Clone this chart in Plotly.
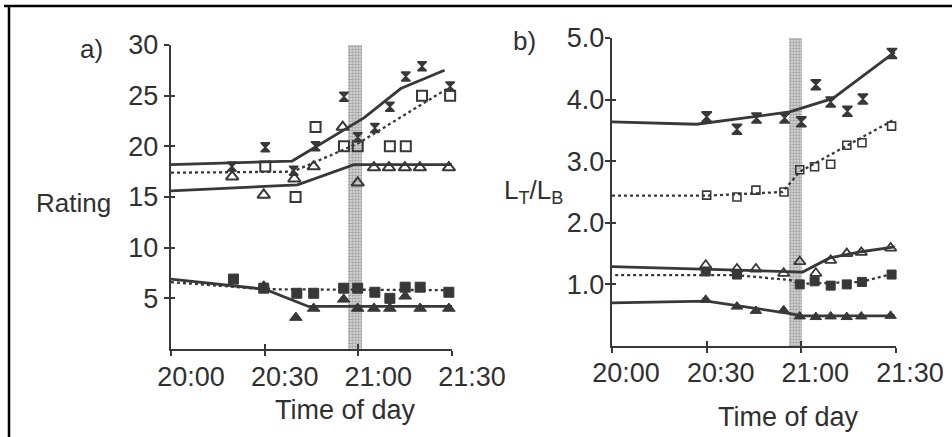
import plotly.graph_objects as go

W, H = 952, 437

# ---------------- data (minutes after 20:00) ----------------
tick_vals_x = [0, 30, 60, 90]
tick_text_x = ["20:00", "20:30", "21:00", "21:30"]

# Panel a) ratings
a_cross_x = [19.5, 30.2, 39.3, 46.3, 55.4, 59.8, 65.3, 70.1, 75.2, 80.4, 89.4]
a_cross_y = [18.0, 19.9, 17.6, 20.0, 24.9, 20.9, 21.8, 23.9, 26.9, 27.9, 25.9]
a_sqo_x = [30.2, 39.9, 46.3, 55.4, 59.8, 70.1, 75.2, 80.4, 89.4]
a_sqo_y = [18.0, 15.0, 21.9, 20.0, 20.0, 20.0, 20.0, 25.0, 25.0]
a_trio_x = [19.6, 29.7, 39.5, 45.7, 55.0, 59.8, 65.0, 69.8, 74.9, 79.7, 89.0]
a_trio_y = [17.0, 15.2, 16.8, 18.0, 21.9, 16.4, 17.9, 17.9, 17.9, 17.9, 17.9]
a_sqf_x = [20.0, 29.7, 40.3, 45.7, 55.3, 59.8, 65.3, 70.1, 75.0, 79.8, 89.0]
a_sqf_y = [6.9, 6.0, 5.5, 5.5, 6.0, 6.0, 5.6, 5.0, 6.1, 6.1, 5.6]
a_trif_x = [29.7, 40.0, 45.7, 55.3, 59.8, 65.0, 70.1, 75.0, 79.8, 89.0]
a_trif_y = [6.2, 3.1, 4.0, 4.9, 4.0, 4.0, 4.0, 5.2, 4.0, 4.0]

a_fit1_x = [0, 38.8, 61.8, 73.6, 87.6]
a_fit1_y = [18.2, 18.55, 22.8, 25.7, 27.5]
a_fit2_x = [0, 39, 60, 89.6]
a_fit2_y = [17.4, 17.5, 20.3, 25.9]
a_fit3_x = [0, 40.5, 58.6, 90]
a_fit3_y = [15.6, 16.2, 18.2, 18.2]
a_fit4_x = [0, 30, 90]
a_fit4_y = [6.6, 5.9, 5.8]
a_fit5_x = [0, 30, 44, 90]
a_fit5_y = [6.9, 5.9, 4.2, 4.2]

# Panel b) luminance ratio LT/LB
b_cross_x = [30, 39.6, 45.8, 54.7, 60, 64.6, 69.3, 74.6, 79.5, 88.7]
b_cross_y = [3.72, 3.52, 3.70, 3.70, 3.64, 4.24, 3.96, 3.81, 4.01, 4.75]
b_sqo_x = [30, 39.6, 45.6, 54.5, 59.5, 64.2, 69.3, 74.4, 79.2, 88.6]
b_sqo_y = [2.45, 2.42, 2.53, 2.50, 2.86, 2.91, 2.95, 3.26, 3.30, 3.57]
b_trio_x = [29.7, 39.6, 45.6, 54.4, 59.5, 64.6, 69.3, 74.4, 79.0, 88.3]
b_trio_y = [1.31, 1.25, 1.25, 1.18, 1.37, 1.18, 1.39, 1.50, 1.52, 1.59]
b_sqf_x = [29.7, 39.6, 59.5, 64.2, 69.3, 74.4, 79.2, 88.6]
b_sqf_y = [1.21, 1.16, 1.00, 1.05, 0.98, 1.00, 1.04, 1.16]
b_trif_x = [29.7, 39.6, 45.6, 54.4, 59.5, 64.6, 69.3, 74.4, 79.0, 88.3]
b_trif_y = [0.75, 0.64, 0.57, 0.58, 0.48, 0.47, 0.48, 0.47, 0.48, 0.49]

b_fit1_x = [0, 26.8, 56.3, 70, 89.6]
b_fit1_y = [3.64, 3.60, 3.80, 4.02, 4.77]
b_fit2_x = [0, 30, 54, 59.5, 89.6]
b_fit2_y = [2.44, 2.44, 2.50, 2.83, 3.68]
b_fit3_x = [0, 30, 54, 60.4, 69, 79, 89.6]
b_fit3_y = [1.29, 1.25, 1.21, 1.20, 1.43, 1.53, 1.61]
b_fit4_x = [1, 39.6, 56.5, 60, 79, 89.6]
b_fit4_y = [1.15, 1.15, 1.07, 1.01, 1.04, 1.18]
b_fit5_x = [0, 30, 56, 60, 89.6]
b_fit5_y = [0.70, 0.73, 0.53, 0.49, 0.49]

# shaded bands (sunset period)
a_band = dict(center=59.05, width=4.5, top=30.8)
b_band = dict(center=58.2, width=4.2, top=5.16)

# ---------------- styling ----------------
INK = "#383838"
TXT = "#303030"
FONT = "Liberation Sans, Arial, sans-serif"

fig = go.Figure()


def band(b, xa, ya):
    fig.add_trace(go.Bar(
        x=[b["center"]], y=[b["top"]], width=[b["width"]],
        xaxis=xa, yaxis=ya, cliponaxis=False, showlegend=False, hoverinfo="skip",
        marker=dict(color="#d4d4d4", line=dict(width=0),
                    pattern=dict(shape=".", fgcolor="#6e6e6e", bgcolor="#dcdcdc",
                                 size=3, solidity=0.55)),
    ))


def line(x, y, xa, ya, dash="solid", w=2.8):
    fig.add_trace(go.Scatter(x=x, y=y, mode="lines", xaxis=xa, yaxis=ya,
                             line=dict(color=INK, width=w, dash=dash),
                             showlegend=False, hoverinfo="skip"))


def pts(x, y, xa, ya, symbol, size, lw=2):
    fig.add_trace(go.Scatter(x=x, y=y, mode="markers", xaxis=xa, yaxis=ya,
                             marker=dict(symbol=symbol, size=size, color=INK,
                                         line=dict(color=INK, width=lw)),
                             showlegend=False, hoverinfo="skip", cliponaxis=False))


band(a_band, "x", "y")
band(b_band, "x2", "y2")

# panel a
line(a_fit1_x, a_fit1_y, "x", "y")
line(a_fit2_x, a_fit2_y, "x", "y", dash="dot", w=2.3)
line(a_fit3_x, a_fit3_y, "x", "y")
line(a_fit4_x, a_fit4_y, "x", "y", dash="dot", w=2.3)
line(a_fit5_x, a_fit5_y, "x", "y")
pts(a_cross_x, a_cross_y, "x", "y", "hourglass", 9, 1.5)
pts(a_sqo_x, a_sqo_y, "x", "y", "square-open", 10)
pts(a_trio_x, a_trio_y, "x", "y", "triangle-up-open", 11)
pts(a_sqf_x, a_sqf_y, "x", "y", "square", 10, 1)
pts(a_trif_x, a_trif_y, "x", "y", "triangle-up", 11, 1)

# panel b
line(b_fit1_x, b_fit1_y, "x2", "y2")
line(b_fit2_x, b_fit2_y, "x2", "y2", dash="dot", w=2.3)
line(b_fit3_x, b_fit3_y, "x2", "y2")
line(b_fit4_x, b_fit4_y, "x2", "y2", dash="dot", w=2.3)
line(b_fit5_x, b_fit5_y, "x2", "y2")
pts(b_cross_x, b_cross_y, "x2", "y2", "hourglass", 10, 1.5)
pts(b_sqo_x, b_sqo_y, "x2", "y2", "square-open", 8, 1.6)
pts(b_trio_x, b_trio_y, "x2", "y2", "triangle-up-open", 10, 1.8)
pts(b_sqf_x, b_sqf_y, "x2", "y2", "square", 9, 1)
pts(b_trif_x, b_trif_y, "x2", "y2", "triangle-up", 10, 1)

# dummy traces for overlay axes (inner half of crossing ticks)
for xa, ya in (("x3", "y3"), ("x4", "y4")):
    fig.add_trace(go.Scatter(x=[None], y=[None], xaxis=xa, yaxis=ya,
                             mode="markers", showlegend=False, hoverinfo="skip"))

# ---------------- axes ----------------
ax_dom = [171 / W, 452 / W]
ay_dom = [1 - 349 / H, 1 - 45 / H]
bx_dom = [612 / W, 896 / W]
by_dom = [1 - 346 / H, 1 - 38 / H]

common = dict(showgrid=False, zeroline=False, showline=True, linecolor=INK,
              linewidth=2.4, ticks="outside", tickcolor=INK, tickwidth=2,
              automargin=False,
              tickfont=dict(family=FONT, size=27, color=TXT))
overlay = dict(showline=False, showgrid=False, zeroline=False, showticklabels=False,
               ticks="inside", tickwidth=2, tickcolor=INK, automargin=False)

fig.update_layout(
    xaxis=dict(common, domain=ax_dom, range=[0, 90], anchor="y",
               tickvals=tick_vals_x, ticktext=tick_text_x, ticklen=5,
               ticklabelshift=20, ticklabelstandoff=-3),
    yaxis=dict(common, domain=ay_dom, range=[0, 30], anchor="x",
               tickvals=[5, 10, 15, 20, 25, 30], ticklen=5, ticklabelstandoff=0),
    xaxis2=dict(common, domain=bx_dom, range=[0, 90], anchor="y2",
                tickvals=tick_vals_x, ticktext=tick_text_x, ticklen=5,
                ticklabelshift=14, ticklabelstandoff=-4),
    yaxis2=dict(common, domain=by_dom, range=[0, 5], anchor="x2",
                tickvals=[1, 2, 3, 4, 5], tickformat=".1f", ticklen=5,
                ticklabelstandoff=-5),
    xaxis3=dict(overlay, overlaying="x", range=[0, 90], anchor="y3", ticklen=5,
                tickvals=tick_vals_x),
    yaxis3=dict(overlay, overlaying="y", range=[0, 30], anchor="x3", ticklen=4,
                tickvals=[5, 10, 15, 20, 25, 30]),
    xaxis4=dict(overlay, overlaying="x2", range=[0, 90], anchor="y4", ticklen=5,
                tickvals=tick_vals_x),
    yaxis4=dict(overlay, overlaying="y2", range=[0, 5], anchor="x4", ticklen=4,
                tickvals=[1, 2, 3, 4, 5]),
    width=W, height=H,
    margin=dict(l=0, r=0, t=0, b=0, autoexpand=False),
    paper_bgcolor="white", plot_bgcolor="rgba(0,0,0,0)",
    showlegend=False, bargap=0,
)


def label(text, px, py, size=26, xanchor="center"):
    fig.add_annotation(text=text, x=px / W, y=1 - py / H, xref="paper", yref="paper",
                       showarrow=False, xanchor=xanchor, yanchor="middle",
                       font=dict(family=FONT, size=size, color=TXT))


label("a)", 91, 49)
label("b)", 524, 41)
label("Rating", 113, 203, xanchor="right")
label("L<sub>T</sub>/L<sub>B</sub>", 533, 192)
label("Time of day", 345, 410, size=27)
label("Time of day", 788, 417, size=27)

# frame lines (top and left of the scanned figure)
fig.add_shape(type="line", xref="paper", yref="paper", x0=4 / W, x1=1, y0=1 - 6 / H, y1=1 - 6 / H,
              line=dict(color="black", width=2.5))
fig.add_shape(type="line", xref="paper", yref="paper", x0=9 / W, x1=9 / W, y0=0, y1=1 - 6 / H,
              line=dict(color="black", width=2.5))

fig.write_html("out.html")
